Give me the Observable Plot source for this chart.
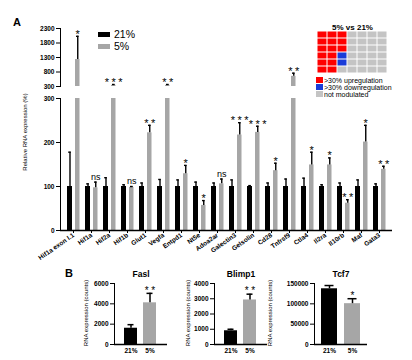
<!DOCTYPE html>
<html><head><meta charset="utf-8">
<script src="https://cdn.jsdelivr.net/npm/d3@7"></script>
<script src="https://cdn.jsdelivr.net/npm/@observablehq/plot@0.6"></script>
<style>
body{margin:0;background:#fff;}
#root{position:relative;width:412px;height:360px;overflow:hidden;font-family:"Liberation Sans",Arial,sans-serif;}
#root svg{position:absolute;overflow:visible;}
.lbl{position:absolute;white-space:nowrap;color:#000;line-height:1;}
.sq{position:absolute;}
</style></head><body><div id="root"></div>
<script>
// ---------- Panel A data ----------
const genes = ["Hif1a exon I.1","Hif1a","Hif2a","Hif1b","Glut1","Vegfa","Entpd1","Nt5e","Adoa2ar","Galectin3","Gelsolin","Cd28","Tnfrsf9","Ctla4","Il2ra","Il10rb","Maf","Gata3"];
const ctrlVal = [100,100,100,100,100,100,100,100,100,100,100,100,100,100,100,100,100,100];
const ctrlErr = [178,106,120,104,108,116,115,110,108,115,102,108,117,119,104,108,115,106];
const hypoVal = [1230,97,340,98,222,340,129,57,106,217,223,136,650,149,149,62,201,139];
const hypoErr = [2030,110,370,100,239,370,148,68,117,245,237,153,760,178,165,70,239,146];
const sigA = ["*","ns","***","ns","**","**","*","*","ns","***","***","*","**","*","*","**","*","**"];
const lowTicks = [0,100,200,300];
const highTicks = [300,800,1300,1800,2300];
const seriesNames = ["21%","5%"];

// ---------- waffle ----------
const waffleRows = [
  ["up","up","up","none","none","none","none"],
  ["up","up","up","none","none","none","none"],
  ["up","up","up","none","none","none","none"],
  ["up","up","down","none","none","none","none"],
  ["up","up","down","none","none","none","none"],
  ["up","up","none","none","none","none","none"]
];
const waffleKeys = ["up","down","none"];
const waffleLabels = [">30% upregulation",">30% downregulation","not modulated"];
const waffleColors = ["#ff0000","#1a3cd8","#c4c4c4"];

// ---------- Panel B data ----------
const bConds = ["21%","5%"];
const faslVal = [1600,4100], faslErr = [1950,5030];
const blimpVal = [900,2920], blimpErr = [1000,3300];
const tcfVal = [137000,100400], tcfErr = [145000,112600];
const faslTicks = [0,2000,4000,6000];
const blimpTicks = [0,1000,2000,3000,4000];
const tcfTicks = [0,50000,100000,150000];

const BLACK = "#000", GRAY = "#a6a6a6";
const FONT = "Liberation Sans, Arial, sans-serif";
const root = document.getElementById("root");
function place(el,left,top){el.style.left=left+"px";el.style.top=top+"px";root.appendChild(el);return el;}
function label(text,left,top,css){const d=document.createElement("div");d.className="lbl";d.textContent=text;d.style.cssText+=css||"";return place(d,left,top);}
function spaceStars(svg){svg.querySelectorAll("text").forEach(t=>{if(/^\*+$/.test(t.textContent))t.setAttribute("letter-spacing","2.5px");});}

const rowsA = genes.map((g,i)=>({gene:g,ctrl:ctrlVal[i],ctrlErr:ctrlErr[i],hypo:hypoVal[i],hypoErr:hypoErr[i],sig:sigA[i]}));
const lowLimit = lowTicks[lowTicks.length-1];
const lowRows = rowsA.filter(d=>d.hypoErr<=lowLimit);
const highRows = rowsA.filter(d=>d.hypo>lowLimit);

const xA = {domain:genes,padding:0,label:null};
const BL = {insetLeft:3,insetRight:10}, GR = {insetLeft:11,insetRight:2.5};
const dxB = -3.5, dxG = 4.25;

function errMarks(data, key0, key1, dx, capInset){
  return [
    Plot.ruleX(data,{x:"gene",y1:key0,y2:key1,dx,stroke:BLACK,strokeWidth:1.4}),
    Plot.tickY(data,{x:"gene",y:key1,stroke:BLACK,strokeWidth:1.4,...capInset})
  ];
}
function sigMarks(data, dx){
  return [
    Plot.text(data.filter(d=>d.sig!=="ns"),{x:"gene",y:"hypoErr",text:"sig",dx:dx+1.2,dy:-2,fontSize:11,fontWeight:"normal"}),
    Plot.text(data.filter(d=>d.sig==="ns"),{x:"gene",y:"hypoErr",text:"sig",dx,dy:-5,fontSize:9,fontWeight:"normal"})
  ];
}

// lower segment
const lower = Plot.plot({
  width:412,height:300,marginTop:98,marginBottom:70,marginLeft:60,marginRight:20,
  style:{fontFamily:FONT,fontSize:"6.5px",fontWeight:"bold",background:"transparent",color:"#000"},
  x:{...xA,tickRotate:-35,tickSize:3,tickPadding:1},
  y:{domain:[0,lowLimit],ticks:lowTicks,tickFormat:"d",label:null,tickSize:4,tickPadding:2,line:true},
  marks:[
    Plot.barY(rowsA,{x:"gene",y:"ctrl",fill:BLACK,...BL}),
    Plot.barY(rowsA,{x:"gene",y:"hypo",fill:GRAY,...GR,clip:true}),
    ...errMarks(rowsA,"ctrl","ctrlErr",dxB,{insetLeft:4.2,insetRight:11.2}),
    ...errMarks(lowRows,"hypo","hypoErr",dxG,{insetLeft:12,insetRight:3.4}),
    ...sigMarks(lowRows,dxG),
    Plot.ruleY([0],{stroke:BLACK,strokeWidth:1.5})
  ]
});
spaceStars(lower);
place(lower,0,0);

// upper segment
const upper = Plot.plot({
  width:412,height:90,marginTop:28,marginBottom:4,marginLeft:60,marginRight:20,
  style:{fontFamily:FONT,fontSize:"6.5px",fontWeight:"bold",background:"transparent",color:"#000"},
  x:{...xA,axis:null},
  y:{domain:[lowLimit,highTicks[highTicks.length-1]],ticks:highTicks,tickFormat:"d",label:null,tickSize:4,tickPadding:2,line:true},
  marks:[
    Plot.barY(highRows,{x:"gene",y1:lowLimit,y2:"hypo",fill:GRAY,...GR}),
    ...errMarks(highRows,"hypo","hypoErr",dxG,{insetLeft:12,insetRight:3.4}),
    ...sigMarks(highRows,dxG)
  ]
});
spaceStars(upper);
place(upper,0,0);

// series legend
const sqL = document.createElement("div"); sqL.className="sq"; sqL.style.cssText="width:12px;height:5px;background:"+BLACK; place(sqL,98,32);
const sqG = document.createElement("div"); sqG.className="sq"; sqG.style.cssText="width:12px;height:5px;background:"+GRAY; place(sqG,98,44);
label(seriesNames[0],114,29,"font-size:10.5px;");
label(seriesNames[1],114,41,"font-size:10.5px;");

// panel labels
label("A",13,17,"font-size:11px;font-weight:bold;");
label("B",65,268,"font-size:11px;font-weight:bold;");
label("Relative RNA expression (%)",25,132,"font-size:6px;transform:translate(-50%,-50%) rotate(-90deg);");

// waffle
const cells = [];
waffleRows.forEach((row,r)=>row.forEach((k,c)=>cells.push({r,c,k})));
const waffle = Plot.plot({
  width:84,height:56,marginTop:8.7,marginBottom:4,marginLeft:5,marginRight:5,
  style:{fontFamily:FONT,fontSize:"7px",fontWeight:"bold",background:"transparent",color:"#000"},
  x:{type:"band",domain:d3.range(7),padding:0,axis:null},
  y:{type:"band",domain:d3.range(6),padding:0,axis:null},
  color:{domain:waffleKeys,range:waffleColors},
  marks:[
    Plot.cell(cells,{x:"c",y:"r",fill:"k",inset:0.5}),
    Plot.text(["5% vs 21%"],{frameAnchor:"top",lineAnchor:"bottom",dy:-1,fontSize:8,fontWeight:"bold"})
  ]
});
place(waffle,310,22);
waffleLabels.forEach((t,i)=>{
  const s=document.createElement("div");s.className="sq";s.style.cssText="width:7px;height:5.5px;background:"+waffleColors[i];
  place(s,316,77+i*7);
  label(t,324,76.5+i*7,"font-size:7px;");
});

// ---------- Panel B ----------
function bPlot(title,vals,errs,sig,ticks,left,po,ylx){
  const data = bConds.map((c,i)=>({cond:c,v:vals[i],e:errs[i]}));
  const p = Plot.plot({
    width:97,height:95,marginTop:18,marginBottom:16,marginLeft:40,marginRight:4,
    style:{fontFamily:FONT,fontSize:"6.5px",fontWeight:"bold",background:"transparent",color:"#000"},
    x:{domain:bConds,paddingInner:0.3,paddingOuter:po,label:null,tickSize:0,tickPadding:4},
    y:{domain:[0,ticks[ticks.length-1]],ticks,tickFormat:"d",label:null,tickSize:4,tickPadding:2,line:true},
    marks:[
      Plot.barY(data,{x:"cond",y:"v",fill:(d,i)=>i===0?BLACK:GRAY}),
      Plot.ruleX(data,{x:"cond",y1:"v",y2:"e",stroke:BLACK,strokeWidth:1.5}),
      Plot.tickY(data,{x:"cond",y:"e",stroke:BLACK,strokeWidth:1.5,insetLeft:3.5,insetRight:3.5}),
      Plot.text([data[1]],{x:"cond",y:"e",text:()=>sig,dy:-3,dx:1.2,fontSize:10,fontWeight:"normal"}),
      Plot.ruleY([0],{stroke:BLACK,strokeWidth:1.5}),
      Plot.text([title],{frameAnchor:"top",lineAnchor:"middle",dy:-9,fontSize:8.5,fontWeight:"bold"})
    ]
  });
  spaceStars(p);
  place(p,left,265);
  label("RNA expression (counts)",ylx,313,"font-size:6px;transform:translate(-50%,-50%) rotate(-90deg);");
}
bPlot("Fasl",faslVal,faslErr,"**",faslTicks,74,0.5,86);
bPlot("Blimp1",blimpVal,blimpErr,"**",blimpTicks,174,0.5,188);
bPlot("Tcf7",tcfVal,tcfErr,"*",tcfTicks,274,0.3,270);
</script></body></html>
